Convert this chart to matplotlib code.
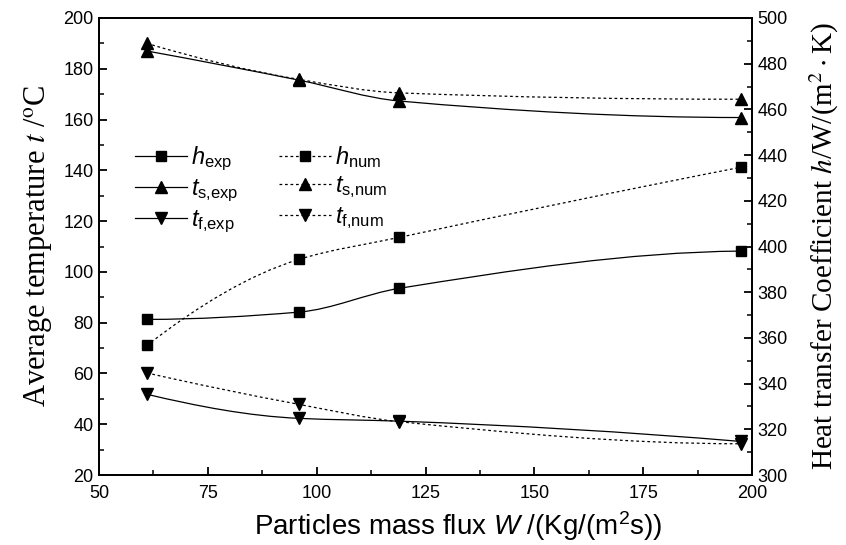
import numpy as np
import matplotlib
matplotlib.use("Agg")
import matplotlib.pyplot as plt
from matplotlib.path import Path
from matplotlib.patches import PathPatch
from matplotlib.lines import Line2D
from matplotlib.ticker import MultipleLocator

plt.rcParams['font.family'] = ['Liberation Sans', 'DejaVu Sans']
plt.rcParams['mathtext.fontset'] = 'custom'
plt.rcParams['mathtext.rm'] = 'Liberation Sans'
plt.rcParams['mathtext.it'] = 'Liberation Sans:italic'
plt.rcParams['mathtext.bf'] = 'Liberation Sans:bold'

# ---- data ----
W = [61, 96, 119, 197.5]                  # particles mass flux
h_exp = [368.1, 371.3, 381.7, 398.0]      # right axis
h_num = [356.7, 394.4, 404.0, 434.7]
ts_exp = [187.0, 175.5, 167.3, 160.8]     # left axis
ts_num = [190.0, 175.8, 170.5, 168.0]
tf_exp = [51.8, 42.3, 41.2, 33.2]
tf_num = [60.2, 47.8, 41.0, 32.3]

labels = [r"$h_{\rm exp}$", r"$t_{\rm s{,}exp}$", r"$t_{\rm f{,}exp}$",
          r"$h_{\rm num}$", r"$t_{\rm s{,}num}$", r"$t_{\rm f{,}num}$"]


def pchip_slopes(x, y):
    x = np.asarray(x, float); y = np.asarray(y, float)
    h = np.diff(x); dl = np.diff(y) / h
    n = len(x); d = np.zeros(n)
    for k in range(1, n - 1):
        if dl[k - 1] * dl[k] > 0:
            w1 = 2 * h[k] + h[k - 1]; w2 = h[k] + 2 * h[k - 1]
            d[k] = (w1 + w2) / (w1 / dl[k - 1] + w2 / dl[k])
    def end(h0, h1, d0, d1):
        s = ((2 * h0 + h1) * d0 - h0 * d1) / (h0 + h1)
        if np.sign(s) != np.sign(d0):
            s = 0.0
        elif np.sign(d0) != np.sign(d1) and abs(s) > abs(3 * d0):
            s = 3 * d0
        return s
    d[0] = end(h[0], h[1], dl[0], dl[1])
    d[-1] = end(h[-1], h[-2], dl[-1], dl[-2])
    return d


def smooth_path(x, y):
    x = np.asarray(x, float); y = np.asarray(y, float)
    d = pchip_slopes(x, y)
    verts = [(x[0], y[0])]; codes = [Path.MOVETO]
    for i in range(len(x) - 1):
        hh = x[i + 1] - x[i]
        verts += [(x[i] + hh / 3, y[i] + d[i] * hh / 3),
                  (x[i + 1] - hh / 3, y[i + 1] - d[i + 1] * hh / 3),
                  (x[i + 1], y[i + 1])]
        codes += [Path.CURVE4] * 3
    return Path(verts, codes)


fig = plt.figure(figsize=(8.46, 5.45), dpi=100)
ax = fig.add_axes([99 / 846, 70 / 545, 653 / 846, 457 / 545])
ax2 = ax.twinx()

dash = (0, (2.2, 2.2))
lw = 0.9
ms_sq = 7.8
ms_tr = 8.8

def draw(axis, x, y, ls, marker, ms):
    axis.add_patch(PathPatch(smooth_path(x, y), fill=False, ec='black', lw=lw,
                             ls=ls, zorder=2))
    axis.plot(x, y, ls='none', marker=marker, ms=ms, color='black', zorder=3)

draw(ax2, W, h_exp, '-', 's', ms_sq)
draw(ax2, W, h_num, dash, 's', ms_sq)
draw(ax, W, ts_exp, '-', '^', ms_tr)
draw(ax, W, ts_num, dash, '^', ms_tr)
draw(ax, W, tf_exp, '-', 'v', ms_tr)
draw(ax, W, tf_num, dash, 'v', ms_tr)

ax.set_xlim(50, 200)
ax.set_ylim(20, 200)
ax2.set_ylim(300, 500)

ax.xaxis.set_major_locator(MultipleLocator(25))
ax.xaxis.set_minor_locator(MultipleLocator(12.5))
ax.yaxis.set_major_locator(MultipleLocator(20))
ax.yaxis.set_minor_locator(MultipleLocator(10))
ax2.yaxis.set_major_locator(MultipleLocator(20))
ax2.yaxis.set_minor_locator(MultipleLocator(10))

for a in (ax, ax2):
    a.tick_params(which='major', direction='in', length=6, width=1.3,
                  labelsize=13, pad=4)
    a.tick_params(which='minor', direction='in', length=3.5, width=1.1)
    for s in a.spines.values():
        s.set_linewidth(1.3)
ax.tick_params(axis='x', pad=7)

ax.set_xlabel(r"Particles mass flux $W$ /(Kg/(m$^2$s))", fontsize=20)
ax.xaxis.set_label_coords(0.55, -0.075)
ax.set_ylabel(r"Average temperature $t$ /$^{\rm o}$C", fontsize=22,
              family='Liberation Serif', math_fontfamily='stix', labelpad=6)
ax2.set_ylabel(r"Heat transfer Coefficient $h$/W/(m$^2\cdot$K)", fontsize=21,
               family='Liberation Serif', math_fontfamily='stix', labelpad=14)

styles = [('-', 's', ms_sq), ('-', '^', ms_tr), ('-', 'v', ms_tr),
          (dash, 's', ms_sq), (dash, '^', ms_tr), (dash, 'v', ms_tr)]
handles = [Line2D([], [], color='black', lw=lw, ls=l, marker=m, ms=s)
           for l, m, s in styles]
leg = ax.legend(handles, labels, ncol=2, frameon=False, loc='upper left',
                bbox_to_anchor=(0.04, 0.745), fontsize=17, handlelength=2.2,
                handletextpad=0.2, columnspacing=1.7, labelspacing=0.2,
                borderaxespad=0)
leg.set_zorder(5)

fig.savefig("out.png", dpi=100)
